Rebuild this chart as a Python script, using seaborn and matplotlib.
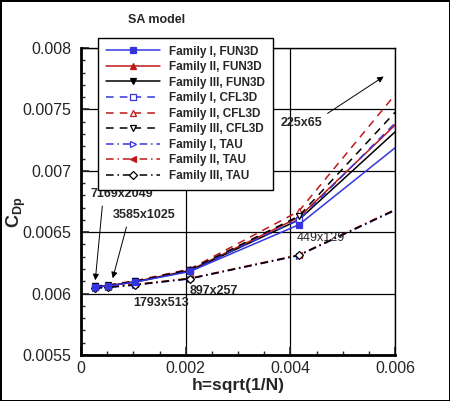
import numpy as np
import pandas as pd
import seaborn as sns
import matplotlib.pyplot as plt
import matplotlib.ticker as mticker

# grid spacing h = sqrt(1/N) for the six grid levels
h = [0.00026, 0.00052, 0.00104, 0.00208, 0.00416, 0.00827]
grid_names = ["7169x2049", "3585x1025", "1793x513", "897x257", "449x129", "225x65"]

fun3d_1 = [0.006055, 0.006062, 0.006095, 0.00618, 0.00656, 0.00796]
fun3d_2 = [0.006055, 0.006065, 0.006098, 0.00619, 0.00662, 0.00830]
fun3d_3 = [0.006055, 0.006062, 0.006095, 0.006185, 0.00660, 0.00820]
cfl3d_1 = [0.00606, 0.006065, 0.00610, 0.00619, 0.00660, 0.00836]
cfl3d_2 = [0.00606, 0.00607, 0.006105, 0.00620, 0.00667, 0.00879]
cfl3d_3 = [0.00606, 0.006068, 0.00610, 0.006195, 0.00663, 0.00852]
tau_1 = [0.006045, 0.00605, 0.00607, 0.00612, 0.00631, 0.00713]
tau_2 = [0.00605, 0.006055, 0.006075, 0.006125, 0.006315, 0.00714]
tau_3 = [0.006045, 0.006052, 0.006072, 0.006122, 0.006312, 0.007135]

BLUE = "#3535e0"
RED = "#c01818"
BLACK = "#000000"
SOLID = "-"
DASH = (0, (5, 4))
DASHDOT = (0, (5, 2.5, 1, 2.5))

series = [
    ("Family I, FUN3D", fun3d_1, BLUE, SOLID, "s", True),
    ("Family II, FUN3D", fun3d_2, RED, SOLID, "^", True),
    ("Family III, FUN3D", fun3d_3, BLACK, SOLID, "v", True),
    ("Family I, CFL3D", cfl3d_1, BLUE, DASH, "s", False),
    ("Family II, CFL3D", cfl3d_2, RED, DASH, "^", False),
    ("Family III, CFL3D", cfl3d_3, BLACK, DASH, "v", False),
    ("Family I, TAU", tau_1, BLUE, DASHDOT, ">", False),
    ("Family II, TAU", tau_2, RED, DASHDOT, "<", True),
    ("Family III, TAU", tau_3, BLACK, DASHDOT, "D", False),
]

sns.set_style("ticks")
plt.rcParams["font.family"] = ["Liberation Sans", "DejaVu Sans"]
plt.rcParams["mathtext.fontset"] = "custom"
plt.rcParams["mathtext.rm"] = "Liberation Sans"
plt.rcParams["mathtext.bf"] = "Liberation Sans:bold"
plt.rcParams["xtick.direction"] = "in"
plt.rcParams["ytick.direction"] = "in"

fig = plt.figure(figsize=(4.5, 4.01), dpi=100)
fig.patch.set_edgecolor("black")
fig.patch.set_linewidth(2)
ax = fig.add_axes([0.18, 0.1147, 0.6978, 0.7656])

for i, (name, vals, col, ls, mk, filled) in enumerate(series):
    df = pd.DataFrame({"h": h, "cdp": vals})
    sns.lineplot(data=df, x="h", y="cdp", ax=ax, color=col, linestyle=ls,
                 linewidth=1.1, marker=mk, markersize=4.5 if mk != "D" else 4,
                 markerfacecolor=col if filled else "white",
                 markeredgecolor=col, markeredgewidth=0.9,
                 label=name, sort=False, zorder=3 + (2 if i == 0 else 0))

ax.set_xlim(0, 0.006)
ax.set_ylim(0.0055, 0.008)
ax.xaxis.set_major_locator(mticker.MultipleLocator(0.002))
ax.xaxis.set_minor_locator(mticker.MultipleLocator(0.0005))
ax.yaxis.set_major_locator(mticker.MultipleLocator(0.0005))
ax.yaxis.set_minor_locator(mticker.MultipleLocator(0.0001))
ax.xaxis.set_major_formatter(mticker.FuncFormatter(lambda v, p: "0" if v == 0 else f"{v:g}"))
ax.yaxis.set_major_formatter(mticker.FuncFormatter(lambda v, p: f"{v:g}"))
ax.tick_params(axis="both", which="major", length=6, width=1.2, labelsize=11.5)
ax.tick_params(axis="both", which="minor", length=3, width=1)
ax.tick_params(axis="y", pad=7)
ax.tick_params(axis="x", pad=4)
ax.grid(True, which="major", color="black", linewidth=0.9)
for side in ["left", "bottom"]:
    ax.spines[side].set_linewidth(2)
for side in ["top", "right"]:
    ax.spines[side].set_linewidth(1)
for s in ax.spines.values():
    s.set_color("black")
    s.set_zorder(6)

ax.set_xlabel("h=sqrt(1/N)", fontsize=12.5, fontweight="bold", labelpad=2)
ax.set_ylabel(r"$\mathbf{C}_{\mathbf{Dp}}$", fontsize=13)
ax.yaxis.set_label_coords(-0.17, 0.466)

handles, labels = ax.get_legend_handles_labels()
leg = ax.legend(handles, labels, loc="upper left", bbox_to_anchor=(0.054, 1.033),
                borderaxespad=0, fontsize=8.5, handlelength=4.6, handletextpad=0.8,
                labelspacing=0.3, borderpad=0.65, fancybox=False,
                framealpha=1, edgecolor="black")
leg.get_frame().set_linewidth(1)
for t in leg.get_texts():
    t.set_fontweight("bold")
leg.set_zorder(10)

lab = dict(fontsize=9, fontweight="bold", zorder=8)
arr = dict(arrowstyle="-|>", color="black", lw=0.7, mutation_scale=9)
ax.annotate(grid_names[0], xy=(0.000268, 0.006086), xytext=(0.000191, 0.006811),
            ha="left", va="center", arrowprops=dict(arr, relpos=(0.19, 0.0)), **lab)
ax.annotate(grid_names[1], xy=(0.000592, 0.006103), xytext=(0.000611, 0.00664),
            ha="left", va="center", arrowprops=dict(arr, relpos=(0.24, 0.0)), **lab)
ax.text(0.000994, 0.005924, grid_names[2], ha="left", va="center", **lab)
ax.text(0.002083, 0.006021, grid_names[3], ha="left", va="center", **lab)
ax.text(0.004127, 0.006453, grid_names[4], ha="left", va="center",
        fontsize=9, zorder=8)
ax.annotate(grid_names[5], xy=(0.005828, 0.00778), xytext=(0.004605, 0.007389),
            ha="right", va="center", arrowprops=dict(arr, relpos=(1.0, 1.0)), **lab)

fig.text(0.284, 0.95, "SA model", fontsize=9, fontweight="bold", ha="left", va="center")

fig.savefig("out.png", dpi=100)
